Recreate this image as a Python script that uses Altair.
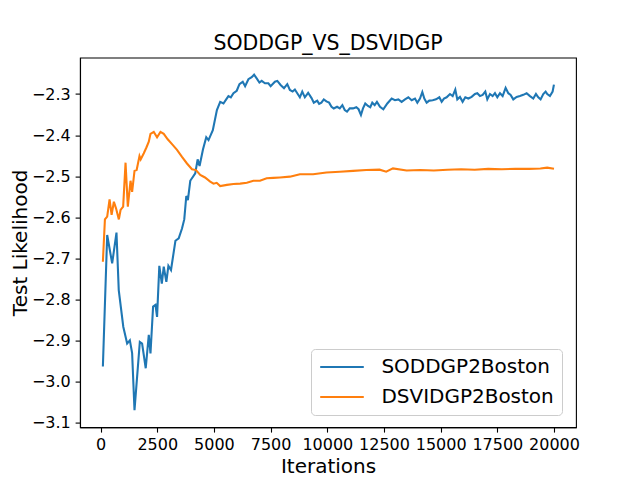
import altair as alt
import pandas as pd

# ---- data ----
blue_iter = [100, 290, 510, 700, 800, 1000, 1170, 1290, 1390, 1495, 1730, 1830, 1990, 2125, 2200,
             2315, 2420, 2490, 2590, 2700, 2785, 2900, 2990, 3105, 3300, 3445, 3590, 3690, 3780,
             3850, 3955, 4175, 4280, 4365, 4515, 4660, 4760, 4950, 5130, 5275, 5420, 5540, 5640,
             5745, 5860, 6005, 6125, 6270, 6375, 6520, 6665, 6770, 6885, 7005, 7105, 7250, 7400,
             7500, 7690, 7795, 7940, 8090, 8235, 8350, 8470, 8570, 8675, 8790, 8895, 9010, 9155,
             9305, 9405, 9555, 9640, 9740, 9845, 9960, 10080, 10185, 10285, 10430, 10550, 10665,
             10770, 10870, 10990, 11135, 11280, 11380, 11485, 11575, 11675, 11795, 11895, 11985,
             12090, 12190, 12325, 12472, 12648, 12840, 12987, 13134, 13280, 13428, 13575, 13722,
             13869, 13972, 14089, 14192, 14280, 14383, 14501, 14648, 14795, 14942, 15045, 15147,
             15265, 15412, 15530, 15647, 15735, 15853, 15970, 16088, 16221, 16368, 16515, 16617,
             16735, 16853, 16970, 17058, 17176, 17294, 17396, 17500, 17617, 17735, 17867, 17985,
             18087, 18205, 18352, 18499, 18646, 18793, 18940, 19087, 19205, 19308, 19410, 19528,
             19631, 19704, 19822, 19940, 19998]
blue_val = [-2.963, -2.643, -2.712, -2.637, -2.777, -2.866, -2.907, -2.899, -2.930, -3.069, -2.903,
            -2.907, -2.967, -2.886, -2.931, -2.817, -2.813, -2.842, -2.718, -2.761, -2.720, -2.757,
            -2.718, -2.728, -2.657, -2.651, -2.627, -2.605, -2.548, -2.558, -2.511, -2.493, -2.459,
            -2.475, -2.435, -2.405, -2.412, -2.388, -2.339, -2.319, -2.323, -2.313, -2.305, -2.308,
            -2.298, -2.292, -2.276, -2.270, -2.281, -2.264, -2.259, -2.253, -2.262, -2.272, -2.268,
            -2.274, -2.274, -2.281, -2.270, -2.268, -2.278, -2.286, -2.276, -2.290, -2.294, -2.289,
            -2.298, -2.308, -2.294, -2.308, -2.297, -2.310, -2.321, -2.316, -2.324, -2.321, -2.313,
            -2.318, -2.321, -2.331, -2.335, -2.331, -2.335, -2.327, -2.339, -2.343, -2.335, -2.335,
            -2.332, -2.337, -2.351, -2.335, -2.323, -2.329, -2.332, -2.321, -2.327, -2.319, -2.331,
            -2.337, -2.323, -2.311, -2.315, -2.313, -2.319, -2.313, -2.308, -2.315, -2.311, -2.321,
            -2.311, -2.295, -2.311, -2.321, -2.316, -2.315, -2.313, -2.308, -2.319, -2.311, -2.308,
            -2.300, -2.305, -2.289, -2.313, -2.307, -2.319, -2.308, -2.311, -2.307, -2.300, -2.298,
            -2.305, -2.302, -2.294, -2.313, -2.300, -2.305, -2.298, -2.308, -2.298, -2.305, -2.285,
            -2.298, -2.302, -2.313, -2.307, -2.305, -2.302, -2.298, -2.305, -2.311, -2.300, -2.308,
            -2.313, -2.300, -2.294, -2.300, -2.305, -2.294, -2.277]

orange_iter = [100, 190, 290, 395, 485, 585, 680, 805, 880, 995, 1100, 1200, 1320, 1390, 1495,
               1590, 1715, 1768, 1905, 2020, 2125, 2200, 2345, 2490, 2640, 2785, 2960, 3150, 3370,
               3590, 3810, 4030, 4208, 4395, 4605, 4835, 4980, 5120, 5275, 5570, 5860, 6155, 6450,
               6740, 7030, 7325, 7620, 7910, 8350, 8790, 9375, 9960, 10550, 11135, 11720, 12305,
               12600, 12895, 13500, 14100, 14700, 15300, 15900, 16500, 17100, 17700, 18300, 18900,
               19400, 19700, 20000]
orange_val = [-2.708, -2.605, -2.598, -2.556, -2.594, -2.562, -2.578, -2.605, -2.582, -2.574, -2.467,
              -2.574, -2.511, -2.538, -2.487, -2.485, -2.451, -2.459, -2.444, -2.430, -2.416, -2.397,
              -2.392, -2.405, -2.392, -2.397, -2.410, -2.422, -2.436, -2.453, -2.469, -2.483, -2.485,
              -2.497, -2.503, -2.513, -2.518, -2.516, -2.524, -2.521, -2.519, -2.518, -2.516, -2.511,
              -2.511, -2.505, -2.504, -2.503, -2.501, -2.495, -2.495, -2.491, -2.489, -2.487, -2.485,
              -2.484, -2.489, -2.481, -2.486, -2.485, -2.486, -2.484, -2.483, -2.484, -2.482, -2.483,
              -2.482, -2.482, -2.481, -2.479, -2.482]

series_names = ["SODDGP2Boston", "DSVIDGP2Boston"]
series_colors = ["#1f77b4", "#ff7f0e"]
x_ticks = [0, 2500, 5000, 7500, 10000, 12500, 15000, 17500, 20000]
y_ticks = [-3.1, -3.0, -2.9, -2.8, -2.7, -2.6, -2.5, -2.4, -2.3]

df = pd.concat([
    pd.DataFrame({"Iterations": blue_iter, "value": blue_val, "series": series_names[0]}),
    pd.DataFrame({"Iterations": orange_iter, "value": orange_val, "series": series_names[1]}),
], ignore_index=True)

FONT = "DejaVu Sans"

chart = alt.Chart(df).mark_line(strokeWidth=2.08).encode(
    x=alt.X("Iterations:Q",
            scale=alt.Scale(domain=[-909, 20971], nice=False, zero=False),
            axis=alt.Axis(values=x_ticks, format="d", title="Iterations",
                          titleY=45, titleBaseline="alphabetic")),
    y=alt.Y("value:Q",
            scale=alt.Scale(domain=[-3.1104, -2.2114], nice=False, zero=False),
            axis=alt.Axis(values=y_ticks, format=".1f", title="Test Likelihood",
                          titleX=-53.5, titleBaseline="alphabetic")),
    color=alt.Color("series:N",
                    scale=alt.Scale(domain=series_names, range=series_colors),
                    sort=series_names,
                    legend=alt.Legend(title=None, orient="none", legendX=231, legendY=291.4)),
    order="Iterations:Q",
).properties(
    width=496, height=369.6,
    title=alt.TitleParams("SODDGP_VS_DSVIDGP", font=FONT, fontSize=20.5, fontWeight="normal",
                          baseline="alphabetic", offset=-13, anchor="middle", color="black"),
    autosize=alt.AutoSizeParams(type="none"),
    padding={"left": 72, "top": 49.6, "right": 56, "bottom": 52},
).configure_view(
    stroke="black", strokeWidth=1.1
).configure_axis(
    grid=False, domainColor="black", domainWidth=1.1,
    tickColor="black", tickWidth=1.1, tickSize=4.9,
    labelFont=FONT, labelFontSize=16, labelColor="black", labelPadding=4.8,
    titleFont=FONT, titleFontSize=20, titleFontWeight="normal", titleColor="black",
).configure_legend(
    labelFont=FONT, labelFontSize=20, labelColor="black", labelLimit=400,
    symbolType="stroke", symbolSize=1900, symbolStrokeWidth=2.08, labelOffset=16.4,
    clipHeight=20, rowPadding=10, padding=8, strokeColor="#cccccc",
    fillColor="rgba(255,255,255,0.8)", cornerRadius=4,
)

chart.save("out.html", embed_options={"renderer": "svg", "actions": False})
